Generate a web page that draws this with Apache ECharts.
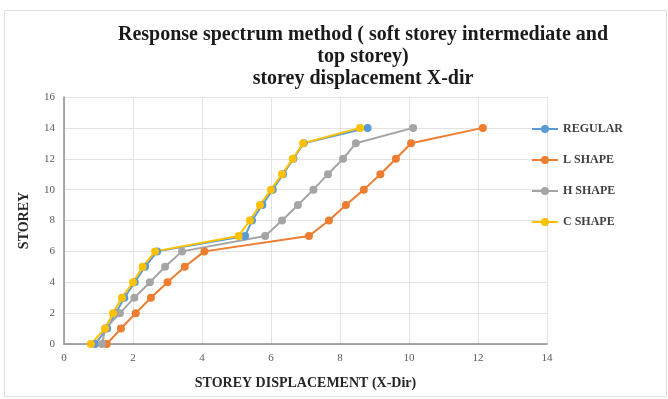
<!DOCTYPE html>
<html>
<head>
<meta charset="utf-8">
<script src="https://cdn.jsdelivr.net/npm/echarts@6/dist/echarts.min.js"></script>
<style>
  html, body { margin: 0; padding: 0; background: #fff; }
  #chart { width: 668px; height: 399px; }
</style>
</head>
<body>
<div id="chart"></div>
<script>
// Storey levels (y values) shared by every series
const storeys = [0, 1, 2, 3, 4, 5, 6, 7, 8, 9, 10, 11, 12, 13, 14];

// Storey displacement in X direction for each building shape
const regular = [0.90, 1.25, 1.50, 1.75, 2.05, 2.35, 2.70, 5.25, 5.45, 5.75, 6.05, 6.35, 6.65, 6.95, 8.80];
const lShape  = [1.24, 1.65, 2.08, 2.52, 3.00, 3.50, 4.07, 7.10, 7.68, 8.17, 8.69, 9.17, 9.62, 10.06, 12.14];
const hShape  = [1.10, 1.20, 1.62, 2.04, 2.49, 2.93, 3.42, 5.83, 6.32, 6.78, 7.23, 7.65, 8.09, 8.46, 10.12];
const cShape  = [0.78, 1.19, 1.42, 1.68, 2.00, 2.28, 2.64, 5.06, 5.39, 5.68, 6.00, 6.32, 6.63, 6.93, 8.58];

const seriesNames = ['REGULAR', 'L SHAPE', 'H SHAPE', 'C SHAPE'];
const seriesData = [regular, lShape, hShape, cShape];
const colors = ['#5B9BD5', '#ED7D31', '#A5A5A5', '#FFC000'];

const xTicks = { min: 0, max: 14, interval: 2 };
const yTicks = { min: 0, max: 16, interval: 2 };

const serif = '"Liberation Serif", "DejaVu Serif", serif';

const chart = echarts.init(document.getElementById('chart'), null, { renderer: 'canvas' });

chart.setOption({
  animation: false,
  backgroundColor: '#ffffff',
  color: colors,
  title: {
    text: 'Response spectrum method ( soft storey intermediate and\ntop storey)\nstorey displacement X-dir',
    left: 358,
    top: 19,
    textAlign: 'center',
    textStyle: {
      fontFamily: serif,
      fontWeight: 'bold',
      fontSize: 20,
      lineHeight: 22,
      color: '#1a1a1a'
    }
  },
  legend: {
    orient: 'vertical',
    left: 526,
    top: 117,
    itemGap: 17,
    itemWidth: 26,
    itemHeight: 10,
    data: seriesNames,
    textStyle: {
      fontFamily: serif,
      fontWeight: 'bold',
      fontSize: 12,
      lineHeight: 14,
      color: '#404040'
    }
  },
  grid: { left: 64, right: 121, top: 97, bottom: 55 },
  xAxis: {
    type: 'value',
    min: xTicks.min,
    max: xTicks.max,
    interval: xTicks.interval,
    name: 'STOREY DISPLACEMENT (X-Dir)',
    nameLocation: 'middle',
    nameGap: 32,
    nameTextStyle: { fontFamily: serif, fontWeight: 'bold', fontSize: 14, color: '#262626' },
    axisLine: { show: true, lineStyle: { color: '#8c8c8c', width: 1.5 } },
    axisTick: { show: false },
    axisLabel: { fontFamily: serif, fontSize: 11, color: '#595959', margin: 9 },
    splitLine: { show: true, lineStyle: { color: '#e3e3e3' } }
  },
  yAxis: {
    type: 'value',
    min: yTicks.min,
    max: yTicks.max,
    interval: yTicks.interval,
    name: 'STOREY',
    nameLocation: 'middle',
    nameGap: 33,
    nameRotate: 90,
    nameTextStyle: { fontFamily: serif, fontWeight: 'bold', fontSize: 14, color: '#262626' },
    axisLine: { show: true, lineStyle: { color: '#8c8c8c', width: 1.5 } },
    axisTick: { show: false },
    axisLabel: { fontFamily: serif, fontSize: 11, color: '#595959', margin: 9 },
    splitLine: { show: true, lineStyle: { color: '#e3e3e3' } }
  },
  graphic: [{
    type: 'rect',
    shape: { x: 4.5, y: 10.5, width: 662, height: 386 },
    style: { fill: 'none', stroke: '#e0e0e0', lineWidth: 1 },
    silent: true,
    z: -1
  }],
  series: seriesNames.map((name, i) => ({
    name: name,
    type: 'line',
    data: seriesData[i].map((x, k) => [x, storeys[k]]),
    symbol: 'circle',
    symbolSize: 8,
    lineStyle: { width: 2, color: colors[i] },
    itemStyle: { color: colors[i] }
  }))
});
</script>
</body>
</html>
